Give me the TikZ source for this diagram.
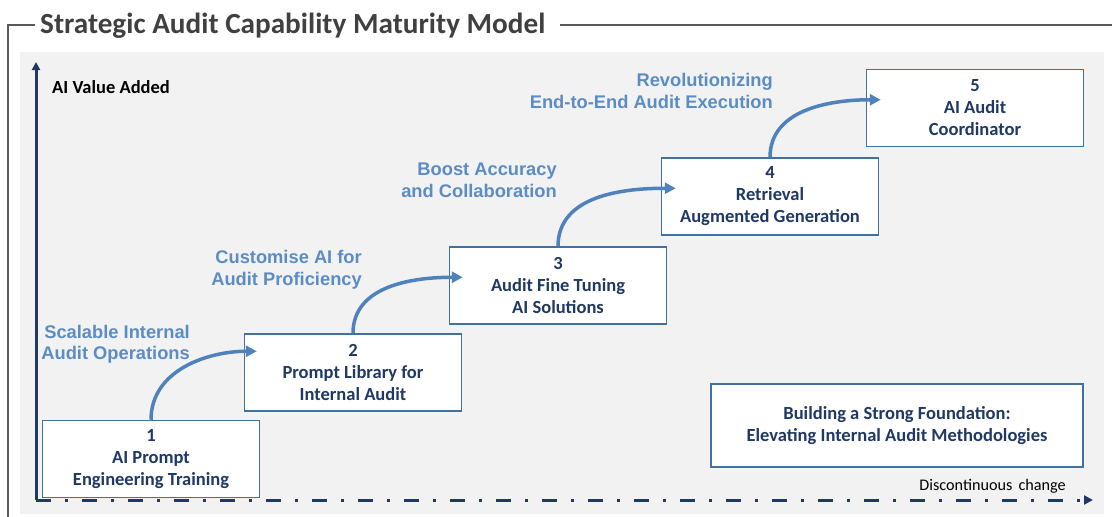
\documentclass[tikz,border=0pt]{standalone}
\usepackage{fontspec}
\setmainfont{Carlito}
\newfontfamily\arialfont{Liberation Sans}
\usetikzlibrary{positioning,arrows.meta}
\definecolor{framegray}{HTML}{595959}
\definecolor{titlegray}{HTML}{404040}
\definecolor{panelgray}{HTML}{F2F2F2}
\definecolor{axisnavy}{HTML}{1F3864}
\definecolor{boxblue}{HTML}{41719C}
\definecolor{arrowblue}{HTML}{4F81BD}
\definecolor{labelblue}{HTML}{5B8CC6}

\begin{document}
\begin{tikzpicture}[x=1pt, y=-1pt, node distance=205pt, auto]
    \tikzstyle{stage} = [rectangle, minimum width=217pt, minimum height=77pt, align=center, draw=boxblue, line width=1.5pt, fill=white, text=axisnavy, font=\fontsize{18.5}{22}\selectfont\bfseries]
    \tikzstyle{goal} = [align=right, anchor=east, inner sep=0pt, text=labelblue, font=\arialfont\fontsize{18.3}{21.5}\selectfont\bfseries]
    \tikzstyle{climb} = [-{Triangle[length=11pt,width=11pt]}, line width=3.5pt, draw=arrowblue]
    \tikzstyle{frame} = [draw=framegray, line width=2pt]
    \tikzstyle{axis} = [draw=axisnavy, line width=3pt]

    \useasboundingbox (0,0) rectangle (1112,517);
    \fill [panelgray] (20,52) rectangle (1104,514);

    % Title and frame
    \node [anchor=base west, inner sep=0pt, text=titlegray, font=\fontsize{29.2}{34}\selectfont\bfseries] (title) at (40,33) {Strategic Audit Capability Maturity Model};
    \draw [frame] (8,517) -- (8,25) -- (35,25);
    \draw [frame] (560,25) -- (1112,25);

    % Axes
    \coordinate (origin) at (36,500);
    \coordinate (ytip) at (36,62);
    \coordinate (xtip) at (1093,500);
    \draw [axis, -{Triangle[length=8pt,width=8pt]}] (origin) -- (ytip);
    \draw [axis, dash pattern=on 15pt off 14pt on 3pt off 14pt, -{Triangle[length=9pt,width=9pt]}] (origin) -- (xtip);
    \node [anchor=base west, inner sep=0pt, font=\fontsize{18.5}{20}\selectfont\bfseries] (yname) at (52,93) {AI Value Added};
    \node [anchor=base east, inner sep=0pt, font=\fontsize{16.2}{18}\selectfont] (xname) at (1066,490) {Discontinuous\hspace{0.15em} change};

    % Stages
    \node [stage] (s1) at (151,459) {1\\AI Prompt\\Engineering Training};
    \node [stage, right of=s1, xshift=-3pt, yshift=86.5pt] (s2) {2\\Prompt Library for\\Internal Audit};
    \node [stage, right of=s2, yshift=87pt] (s3) {3\\Audit Fine Tuning\\AI Solutions};
    \node [stage, right of=s3, xshift=7pt, yshift=89pt] (s4) {4\\Retrieval\\Augmented Generation};
    \node [stage, right of=s4, yshift=88.5pt] (s5) {5\\AI Audit\\Coordinator};

    % Foundation
    \node [stage, minimum width=372pt, minimum height=83pt] (base) at (897,425.5) {Building a Strong Foundation:\\Elevating Internal Audit Methodologies};

    % Goals
    \node [goal] (g1) at (190,344.5) {Scalable Internal\\Audit Operations};
    \node [goal] (g2) at (362,270) {Customise AI for\\Audit Proficiency};
    \node [goal] (g3) at (557,180.5) {Boost Accuracy\\and Collaboration};
    \node [goal] (g4) at (773,91) {Revolutionizing\\End-to-End Audit Execution};

    % Connections
    \draw [climb] (s1.north) to[out=90, in=180] ([xshift=13pt, yshift=-18pt]s2.north west);
    \draw [climb] (s2.north) to[out=90, in=180] ([xshift=14pt, yshift=-31pt]s3.north west);
    \draw [climb] (s3.north) to[out=90, in=180] ([xshift=15pt, yshift=-31pt]s4.north west);
    \draw [climb] (s4.north) to[out=90, in=180] ([xshift=15pt, yshift=-31pt]s5.north west);
\end{tikzpicture}
\end{document}
